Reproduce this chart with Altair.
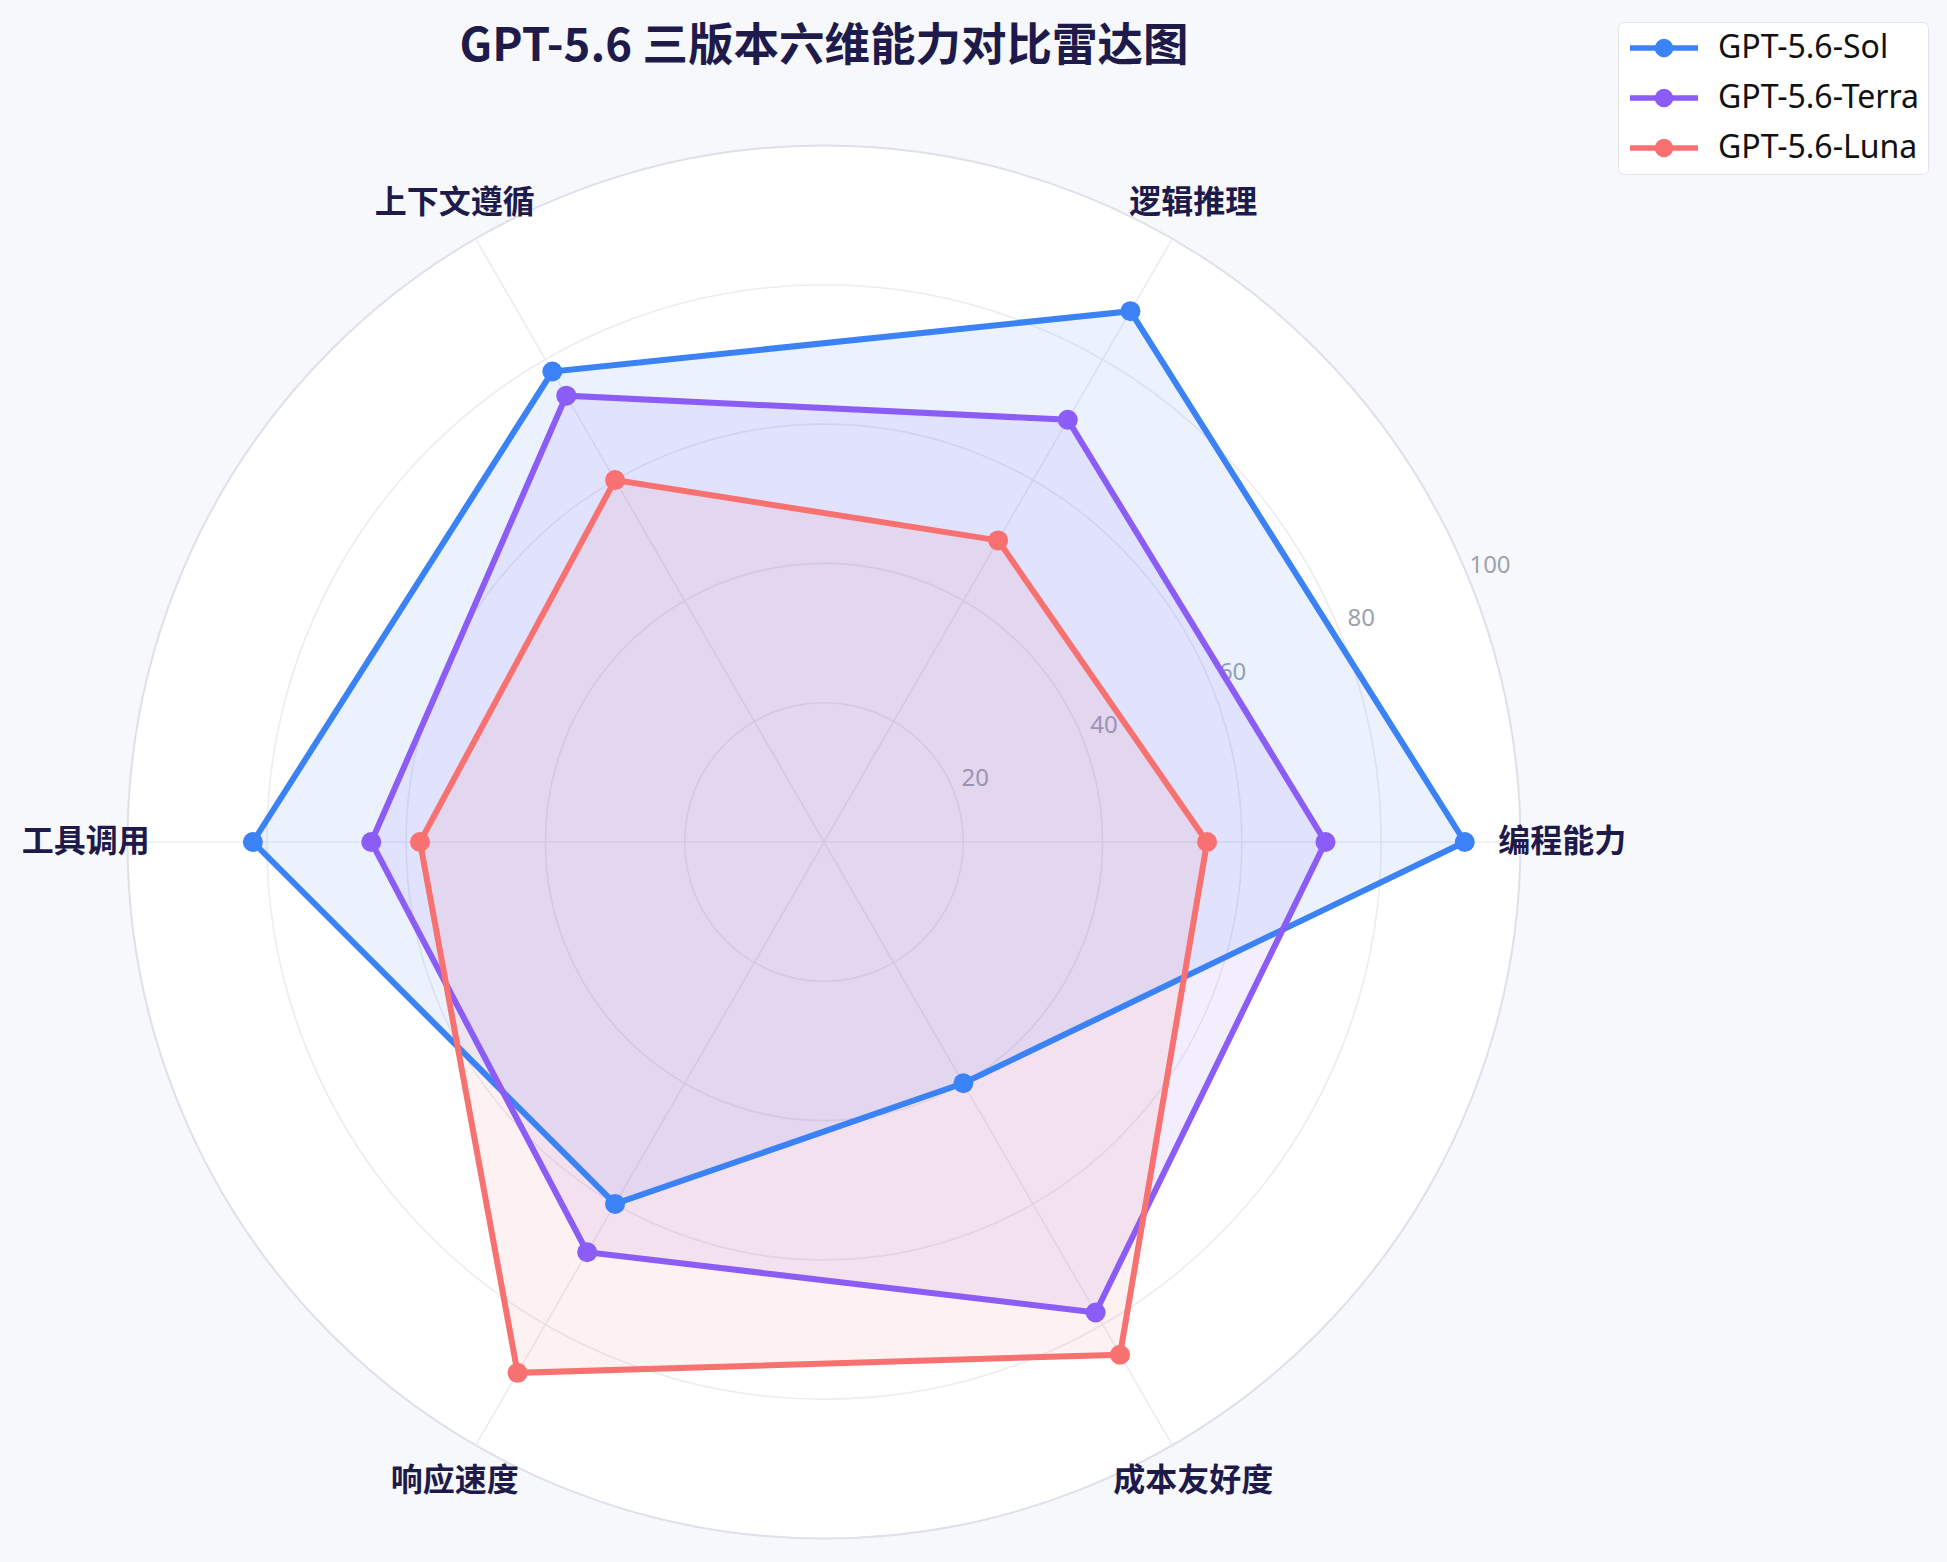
import math
import altair as alt
import pandas as pd

# ---------------- data ----------------
title_text = ["GPT-5.6 三版本六维能力对比雷达图"]
categories = ["编程能力", "逻辑推理", "上下文遵循", "工具调用", "响应速度", "成本友好度"]
models = ["GPT-5.6-Sol", "GPT-5.6-Terra", "GPT-5.6-Luna"]
sol = [92, 88, 78, 82, 60, 40]
terra = [72, 70, 74, 65, 68, 78]
luna = [55, 50, 60, 58, 88, 85]
colors = ["#3b82f6", "#8b5cf6", "#f87171"]
ring_values = [20, 40, 60, 80]
tick_values = [20, 40, 60, 80, 100]
outer_value = [100]

# ---------------- layout ----------------
W = 1393
CX, CY = 824, 842
PAD_L = CX - W / 2
PAD_T = CY - W / 2
N = len(categories)
STEP = 2 * math.pi / N

rows = []
for m, vals in zip(models, [sol, terra, luna]):
    for i in range(N + 1):
        k = i % N
        rows.append({"model": m, "category": categories[k], "idx": k, "ord": i, "value": vals[k]})
series_df = pd.DataFrame(rows)
cat_df = pd.DataFrame({"category": categories, "idx": list(range(N))})
ring_df = pd.DataFrame({"r": ring_values})
outer_df = pd.DataFrame({"r": outer_value})
tick_df = pd.DataFrame({"v": tick_values, "label": [str(v) for v in tick_values]})
title_df = pd.DataFrame({"t": title_text})

xs = alt.Scale(domain=[-100, 100], nice=False, zero=False)
ys = alt.Scale(domain=[-100, 100], nice=False, zero=False)
rs = alt.Scale(type="linear", domain=[0, 100], range=[0, W / 2], zero=True, nice=False)
cs = alt.Scale(domain=models, range=colors)

def X(f):
    return alt.X(f, type="quantitative", scale=xs, axis=None)

def Y(f):
    return alt.Y(f, type="quantitative", scale=ys, axis=None)

ang = f"datum.idx * {STEP}"

outer = alt.Chart(outer_df).mark_arc(
    theta=0, theta2=6.2832, fill="white", stroke="#dfe0e8", strokeWidth=2
).encode(radius=alt.Radius("r:Q", scale=rs, stack=None))

rings = alt.Chart(ring_df).mark_arc(
    theta=0, theta2=6.2832, filled=False, stroke="#ececf1", strokeWidth=1.6
).encode(radius=alt.Radius("r:Q", scale=rs, stack=None))

spokes = alt.Chart(cat_df).transform_calculate(
    x0="0", y0="0",
    xe=f"100 * cos({ang})", ye=f"100 * sin({ang})"
).mark_rule(stroke="#ececf1", strokeWidth=1.6).encode(
    x=X("x0"), y=Y("y0"), x2="xe:Q", y2="ye:Q"
)

ticks = alt.Chart(tick_df).transform_calculate(
    tx=f"(datum.v + 3.5) * cos({math.pi/8})",
    ty=f"(datum.v + 3.5) * sin({math.pi/8})"
).mark_text(font="Noto Sans", fontSize=24, color="#9ca3af", align="center", baseline="middle").encode(
    x=X("tx"), y=Y("ty"), text="label:N"
)

base = alt.Chart(series_df).transform_calculate(
    px=f"datum.value * cos({ang})", py=f"datum.value * sin({ang})"
)

# legend symbol: a line with a dot (two concentric stroked circles fill the dot)
S = 30.0          # symbol box in px
HALF = S / 2

def circ(rpx):
    r = rpx / HALF
    k = 0.5523 * r
    return (f"M{r:.4f},0C{r:.4f},{k:.4f} {k:.4f},{r:.4f} 0,{r:.4f}"
            f"C{-k:.4f},{r:.4f} {-r:.4f},{k:.4f} {-r:.4f},0"
            f"C{-r:.4f},{-k:.4f} {-k:.4f},{-r:.4f} 0,{-r:.4f}"
            f"C{k:.4f},{-r:.4f} {r:.4f},{-k:.4f} {r:.4f},0Z")

L = 34 / HALF
sym_path = f"M{-L:.4f},0L{L:.4f},0" + circ(6.5) + circ(2.5)

legend_layer = base.transform_filter("false").mark_point(filled=False, strokeWidth=5.5).encode(
    x=X("px"), y=Y("py"),
    color=alt.Color("model:N", scale=cs, sort=models, legend=alt.Legend(
        title=None, orient="none", legendX=1618 - PAD_L, legendY=22 - PAD_T,
        symbolType=sym_path, symbolSize=S * S, symbolStrokeWidth=5.5, symbolOpacity=1,
        symbolOffset=20,
        labelFont="Noto Sans", labelFontSize=32, labelColor="#111111", labelLimit=500,
        fillColor="white", strokeColor="#e3e4ea", cornerRadius=6,
        padding=8, rowPadding=14, labelOffset=36,
    ))
)

fills = base.mark_line(filled=True, fillOpacity=0.1, strokeOpacity=0).encode(
    x=X("px"), y=Y("py"), order="ord:Q",
    fill=alt.Fill("model:N", scale=cs, legend=None),
    detail="model:N"
)

lines = base.mark_line(strokeWidth=6).encode(
    x=X("px"), y=Y("py"), order="ord:Q",
    stroke=alt.Stroke("model:N", scale=cs, legend=None),
    detail="model:N"
)

points = base.transform_filter("datum.ord < 6").mark_point(filled=True, size=400, opacity=1, strokeWidth=0).encode(
    x=X("px"), y=Y("py"),
    fill=alt.Fill("model:N", scale=cs, legend=None),
)

labels = alt.Chart(cat_df).transform_calculate(
    lx=f"106 * cos({ang})", ly=f"106 * sin({ang})"
).mark_text(font="Noto Sans CJK SC", fontWeight="bold", fontSize=32, color="#1e1b4b",
            align="center", baseline="middle").encode(
    x=X("lx"), y=Y("ly"), text="category:N"
)

title = alt.Chart(title_df).mark_text(
    font="Noto Sans CJK SC", fontWeight="bold", fontSize=45.5, color="#1e1b4b",
    align="center", baseline="middle"
).encode(text="t:N", x=alt.value(W / 2), y=alt.value(47 - PAD_T))

chart = alt.layer(legend_layer, outer, rings, spokes, ticks, fills, lines, points, labels, title).properties(
    width=W, height=W,
    autosize="none",
    padding={"left": PAD_L, "top": PAD_T, "right": 1947 - PAD_L - W, "bottom": 1562 - PAD_T - W},
    background="#f7f8fc",
).configure_view(stroke=None)

chart.save("out.html", embed_options={"renderer": "svg", "actions": False})
